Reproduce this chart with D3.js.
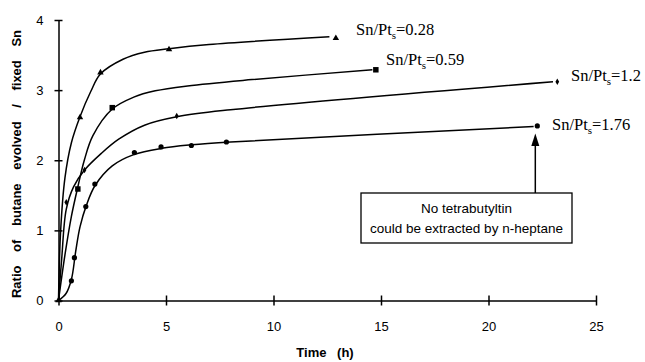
<!DOCTYPE html>
<html><head><meta charset="utf-8">
<script src="https://cdn.jsdelivr.net/npm/d3@7"></script>
<style>
html,body{margin:0;padding:0;background:#fff;}
svg{display:block;}
</style></head>
<body>
<svg id="c" width="645" height="362"></svg>
<script>
// ---- data ----
const seriesRatios = ["0.28", "0.59", "1.2", "1.76"];
const xTicks = [0, 5, 10, 15, 20, 25];
const yTicks = [0, 1, 2, 3, 4];
const xTitle = "Time (h)";
const yTitle = "Ratio of butane evolved / fixed Sn";
const noteLines = ["No tetrabutyltin", "could be extracted by n-heptane"];
const noteTarget = [22.27, 2.49];

// measured points (x = time h, y = ratio)
const points028 = [[0,0],[1.0,2.61],[1.95,3.25],[5.14,3.58],[12.9,3.74]];
const points059 = [[0.9,1.59],[2.5,2.75],[14.76,3.29]];
const points12  = [[0.36,1.40],[1.21,1.86],[5.5,2.63],[23.2,3.12]];
const points176 = [[0.6,0.28],[0.74,0.61],[1.27,1.34],[1.69,1.66],[3.53,2.11],[4.77,2.19],[6.18,2.21],[7.81,2.26],[22.27,2.49]];

// fitted curves
const curve028 = [[0,0],[0.1,1.0],[0.3,1.75],[0.6,2.25],[1.0,2.62],[1.5,2.98],[1.95,3.23],[3,3.44],[4,3.54],[5.14,3.59],[7,3.65],[12.6,3.76]];
const curve059 = [[0,0],[0.3,0.65],[0.6,1.2],[0.9,1.62],[1.2,2.0],[1.6,2.35],[2.5,2.73],[3.5,2.9],[4.5,2.99],[6,3.06],[9,3.15],[14.6,3.29]];
const curve12  = [[0,0],[0.15,0.6],[0.36,1.3],[0.7,1.62],[1.21,1.86],[2,2.1],[2.8,2.3],[4,2.5],[5.5,2.62],[8,2.72],[23.0,3.12]];
const curve176 = [[0,0],[0.35,0.1],[0.6,0.3],[0.8,0.7],[1.0,1.05],[1.3,1.36],[1.7,1.64],[2.5,1.92],[3.5,2.08],[4.8,2.17],[6.2,2.22],[8,2.26],[22.1,2.48]];

const series = [
  {ratio: seriesRatios[0], pts: points028, fit: curve028, sym: "tri",  lab: [356, 35]},
  {ratio: seriesRatios[1], pts: points059, fit: curve059, sym: "sq",   lab: [386, 65]},
  {ratio: seriesRatios[2], pts: points12,  fit: curve12,  sym: "dia",  lab: [571, 81]},
  {ratio: seriesRatios[3], pts: points176, fit: curve176, sym: "circ", lab: [552, 130]}
];

// ---- chart ----
const svg = d3.select("#c");
const x = d3.scaleLinear().domain([0, 25]).range([58.5, 596]);
const y = d3.scaleLinear().domain([0, 4]).range([300.5, 20]);

const sans = "'Liberation Sans', Arial, sans-serif";
const serif = "'Liberation Serif', 'Times New Roman', serif";

// axes
const gx = svg.append("g").attr("transform", `translate(0,${y(0)})`)
  .call(d3.axisBottom(x).tickValues(xTicks).tickFormat(d3.format("d")).tickSize(5).tickPadding(16).tickSizeOuter(0));
gx.selectAll(".tick line").attr("y1", -5).attr("y2", 5).attr("stroke-width", 1.5);
gx.select(".domain").attr("stroke-width", 1.5);
gx.selectAll("text").attr("font-family", sans).attr("font-size", 13).attr("fill", "#000");

const gy = svg.append("g").attr("transform", `translate(${x(0)},0)`)
  .call(d3.axisLeft(y).tickValues(yTicks).tickFormat(d3.format("d")).tickSize(4).tickPadding(11).tickSizeOuter(0));
gy.selectAll(".tick line").attr("x1", 4).attr("stroke-width", 1.5);
gy.select(".domain").attr("stroke-width", 1.5);
gy.selectAll("text").attr("font-family", sans).attr("font-size", 13).attr("fill", "#000");

// axis titles
svg.append("text").attr("x", 325).attr("y", 357).attr("text-anchor", "middle")
  .attr("font-family", sans).attr("font-weight", "bold").attr("font-size", 13)
  .style("word-spacing", "7px").text(xTitle);
svg.append("text").attr("transform", "translate(21,164) rotate(-90)").attr("text-anchor", "middle")
  .attr("font-family", sans).attr("font-weight", "bold").attr("font-size", 13)
  .style("word-spacing", "10px").text(yTitle);

// curves
const line = d3.line().x(d => x(d[0])).y(d => y(d[1])).curve(d3.curveCatmullRom.alpha(0.5));
series.forEach(s => {
  svg.append("path").attr("d", line(s.fit)).attr("fill", "none")
    .attr("stroke", "#000").attr("stroke-width", 1.5);
});

// markers
series.forEach(s => {
  const g = svg.append("g");
  s.pts.forEach(p => {
    const cx = x(p[0]), cy = y(p[1]);
    if (s.sym === "circ") {
      g.append("circle").attr("cx", cx).attr("cy", cy).attr("r", 2.6).attr("fill", "#000");
    } else {
      const t = s.sym === "tri" ? d3.symbolTriangle : s.sym === "sq" ? d3.symbolSquare : d3.symbolDiamond;
      const sz = s.sym === "tri" ? 18 : s.sym === "sq" ? 30 : 12;
      g.append("path").attr("d", d3.symbol().type(t).size(sz)())
        .attr("transform", `translate(${cx},${cy})`).attr("fill", "#000");
    }
  });
});

// series labels
series.forEach(s => {
  const t = svg.append("text").attr("x", s.lab[0]).attr("y", s.lab[1])
    .attr("font-family", serif).attr("font-size", 16.5).attr("fill", "#000");
  t.append("tspan").text("Sn/Pt");
  t.append("tspan").attr("dy", 4).attr("font-size", 11).text("s");
  t.append("tspan").attr("dy", -4).text("=" + s.ratio);
});

// annotation box
svg.append("rect").attr("x", 361).attr("y", 193).attr("width", 211).attr("height", 50)
  .attr("fill", "#fff").attr("stroke", "#000").attr("stroke-width", 1.3);
noteLines.forEach((l, i) => {
  svg.append("text").attr("x", 466.5).attr("y", 213 + i * 19.5).attr("text-anchor", "middle")
    .attr("font-family", sans).attr("font-size", 13.5).attr("fill", "#000").text(l);
});
// arrow
const ax = x(noteTarget[0]) - 2;
svg.append("line").attr("x1", ax).attr("x2", ax).attr("y1", 193).attr("y2", 146)
  .attr("stroke", "#000").attr("stroke-width", 1.5);
svg.append("path").attr("d", `M${ax},${y(noteTarget[1]) + 7.5} L${ax - 4},${y(noteTarget[1]) + 20} L${ax + 4},${y(noteTarget[1]) + 20} Z`)
  .attr("fill", "#000");
</script>
</body></html>
